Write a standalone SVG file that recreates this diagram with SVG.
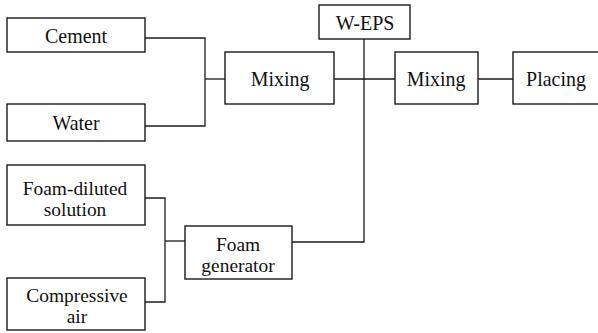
<svg xmlns="http://www.w3.org/2000/svg" width="598" height="333" viewBox="0 0 598 333">
  <style>
    .box { fill: #fff; stroke: #1a1a1a; stroke-width: 1.4; }
    .wire { fill: none; stroke: #1a1a1a; stroke-width: 1.3; }
    text { font-family: 'Liberation Serif', 'DejaVu Serif', serif; font-size: 19px; fill: #111; text-anchor: middle; }
    text.two { font-size: 18px; }
  </style>
  <rect width="598" height="333" fill="#fff"/>

  <!-- connectors -->
  <g id="connectors" class="wire">
    <polyline points="145,38 205,38 205,126 145,126"/>
    <line x1="205" y1="79" x2="225" y2="79"/>
    <line x1="334" y1="79" x2="395" y2="79"/>
    <line x1="478" y1="79" x2="513" y2="79"/>
    <polyline points="364,39 364,242 292,242"/>
    <polyline points="145,198 165,198 165,302 145,302"/>
    <line x1="165" y1="241" x2="185" y2="241"/>
  </g>

  <g id="cement">
    <rect class="box" x="7" y="18" width="138" height="34"/>
    <text transform="translate(76,43) scale(1.05,1.1)">Cement</text>
  </g>
  <g id="water">
    <rect class="box" x="7" y="104" width="138" height="37"/>
    <text transform="translate(76,130) scale(1.05,1.1)">Water</text>
  </g>
  <g id="mixing1">
    <rect class="box" x="225" y="52" width="109" height="52"/>
    <text transform="translate(280,86) scale(1.05,1.1)">Mixing</text>
  </g>
  <g id="weps">
    <rect class="box" x="319" y="5" width="91" height="34"/>
    <text transform="translate(365,30) scale(1.05,1.1)">W-EPS</text>
  </g>
  <g id="mixing2">
    <rect class="box" x="395" y="52" width="83" height="52"/>
    <text transform="translate(436,86) scale(1.05,1.1)">Mixing</text>
  </g>
  <g id="placing">
    <rect class="box" x="513" y="52" width="90" height="52"/>
    <text transform="translate(556,86) scale(1.05,1.1)">Placing</text>
  </g>
  <g id="foam-solution">
    <rect class="box" x="7" y="165" width="138" height="60"/>
    <text class="two" transform="translate(75,195) scale(1.08,1)">Foam-diluted</text>
    <text class="two" transform="translate(75,216) scale(1.08,1)">solution</text>
  </g>
  <g id="compressed-air">
    <rect class="box" x="7" y="278" width="138" height="52"/>
    <text class="two" transform="translate(77,302) scale(1.08,1)">Compressive</text>
    <text class="two" transform="translate(77,323) scale(1.08,1)">air</text>
  </g>
  <g id="foam-generator">
    <rect class="box" x="185" y="226" width="107" height="53"/>
    <text class="two" transform="translate(238,251) scale(1.08,1)">Foam</text>
    <text class="two" transform="translate(238,272) scale(1.08,1)">generator</text>
  </g>
</svg>
